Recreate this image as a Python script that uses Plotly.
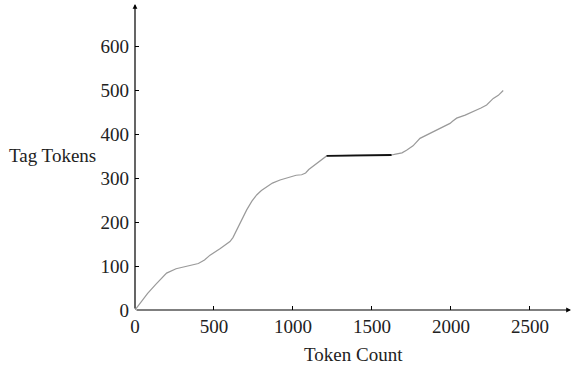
import plotly.graph_objects as go

token_count = [0, 30, 80, 130, 200, 260, 316, 360, 401, 440, 475, 540, 601, 620, 643, 675,
               707, 740, 770, 800, 833, 870, 918, 960, 992, 1020, 1055, 1080, 1100, 1150,
               1213, 1400, 1624, 1650, 1690, 1719, 1760, 1804, 1850, 1888, 1940, 1994, 2010,
               2036, 2090, 2142, 2190, 2226, 2250, 2268, 2300, 2331]
tag_tokens = [0, 15, 38, 58, 84, 94, 99, 102, 106, 114, 125, 140, 156, 165, 182, 205,
              228, 248, 262, 272, 281, 289, 296, 301, 305, 307, 308, 312, 320, 334,
              351, 352, 353, 355, 358, 364, 374, 391, 399, 407, 415, 425, 430,
              437, 444, 452, 460, 467, 476, 482, 489, 500]

plateau_x = [1213, 1400, 1624]
plateau_y = [351, 352, 353]

x_ticks = [0, 500, 1000, 1500, 2000, 2500]
y_ticks = [0, 100, 200, 300, 400, 500, 600]

FONT = "Liberation Serif"
fig = go.Figure()
fig.add_trace(go.Scatter(x=token_count, y=tag_tokens, mode="lines",
                         line=dict(color="#9a9a9a", width=1.2), showlegend=False))
fig.add_trace(go.Scatter(x=plateau_x, y=plateau_y, mode="lines",
                         line=dict(color="#111111", width=1.8), showlegend=False))

XMAX, YMAX = 2760, 697
fig.update_layout(
    width=571, height=367,
    margin=dict(l=135, r=0, t=4, b=57, autoexpand=False),
    plot_bgcolor="white", paper_bgcolor="white",
    font=dict(family=FONT, size=19, color="#222222"),
    xaxis=dict(range=[0, XMAX], tickvals=x_ticks, ticks="inside", ticklen=4,
               tickcolor="black", showgrid=False, zeroline=False, showline=False,
               ticklabelstandoff=3, automargin=False),
    yaxis=dict(range=[0, YMAX], tickvals=y_ticks, ticks="inside", ticklen=4,
               tickcolor="black", showgrid=False, zeroline=False, showline=False,
               ticklabelstandoff=5, automargin=False),
    annotations=[
        dict(x=XMAX, y=0, ax=0, ay=0, xref="x", yref="y", axref="x", ayref="y",
             showarrow=True, arrowhead=2, arrowsize=0.8, arrowwidth=1.2,
             arrowcolor="black", text=""),
        dict(x=0, y=YMAX, ax=0, ay=0, xref="x", yref="y", axref="x", ayref="y",
             showarrow=True, arrowhead=2, arrowsize=0.8, arrowwidth=1.2,
             arrowcolor="black", text=""),
        dict(text="Tag Tokens", xref="paper", yref="y", x=-0.085, y=353,
             xanchor="right", yanchor="middle", showarrow=False),
        dict(text="Token Count", xref="paper", yref="paper", x=0.502, y=-0.144,
             xanchor="center", yanchor="middle", showarrow=False),
    ],
)
fig.write_html("out.html", config={"displayModeBar": False},
               post_script="document.body.style.margin='0';document.body.style.overflow='hidden';")
